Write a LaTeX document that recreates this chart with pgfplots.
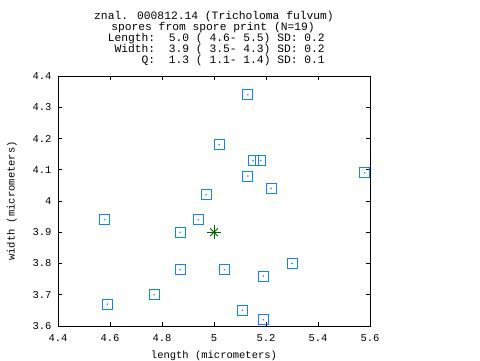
\documentclass[border=0pt]{standalone}
\usepackage{fontspec}
\setmainfont{Liberation Mono}
\setmonofont{Liberation Mono}
\usepackage{pgfplots}
\usepackage{pgfplotstable}
\pgfplotsset{compat=1.18}
\definecolor{ptblue}{RGB}{20,130,255}
\definecolor{ptgreen}{RGB}{0,100,0}
\pgfplotstableread{
x y
5.13 4.34
5.02 4.18
5.15 4.13
5.18 4.13
5.58 4.09
5.13 4.08
5.22 4.04
4.97 4.02
4.58 3.94
4.94 3.94
4.87 3.90
4.87 3.78
5.04 3.78
5.30 3.80
5.19 3.76
4.77 3.70
4.59 3.67
5.11 3.65
5.19 3.62
}\spores
\pgfplotstableread{
x y
5.0 3.9
}\meanpt
\begin{document}
\begin{tikzpicture}[x=1bp,y=1bp]
\useasboundingbox (0,0) rectangle (480,360);
\begin{axis}[
  at={(58bp,34bp)}, anchor=south west,
  scale only axis, width=312bp, height=250bp,
  xmin=4.4, xmax=5.6, ymin=3.6, ymax=4.4,
  xtick={4.4,4.6,...,5.61}, ytick={3.6,3.7,...,4.41},
  xticklabels={4.4,4.6,4.8,5,5.2,5.4,5.6},
  yticklabels={3.6,3.7,3.8,3.9,4,4.1,4.2,4.3,4.4},
  tick align=inside, major tick length=4bp,
  tick style={black, line width=0.8bp},
  axis line style={black, line width=0.8bp},
  ticklabel style={font=\fontsize{10.5bp}{12bp}\selectfont},
  xticklabel style={yshift=-5bp},
  yticklabel style={xshift=-3bp},
  /pgf/number format/assume math mode=true,
  xlabel={length (micrometers)},
  ylabel={width (micrometers)},
  label style={font=\fontsize{10.5bp}{12bp}\selectfont},
  xlabel style={yshift=-2bp},
  ylabel style={yshift=9bp},
  clip=false,
]
\addplot[only marks, mark=square, mark size=5bp, mark options={ptblue, line width=0.9bp}] table[x=x,y=y] {\spores};
\addplot[only marks, mark=*, mark size=0.5bp, mark options={ptblue, draw=ptblue, fill=ptblue}] table[x=x,y=y] {\spores};
\addplot[only marks, mark=+, mark size=7bp, mark options={ptgreen, line width=0.8bp}] table[x=x,y=y] {\meanpt};
\addplot[only marks, mark=x, mark size=5.5bp, mark options={ptgreen, line width=0.8bp}] table[x=x,y=y] {\meanpt};
\end{axis}
\begin{scope}[every node/.style={font=\fontsize{11.3bp}{12bp}\selectfont, inner sep=0pt}]
\node[anchor=center] at (214,343) {znal. 000812.14 (Tricholoma fulvum)};
\node[anchor=center] at (213,332) {spores from spore print (N=19)};
\node[anchor=east] at (325,321) {Length:\ \ 5.0 ( 4.6- 5.5) SD: 0.2};
\node[anchor=east] at (325,310) {Width:\ \ 3.9 ( 3.5- 4.3) SD: 0.2};
\node[anchor=east] at (325,299) {Q:\ \ 1.3 ( 1.1- 1.4) SD: 0.1};
\end{scope}
\end{tikzpicture}
\end{document}
